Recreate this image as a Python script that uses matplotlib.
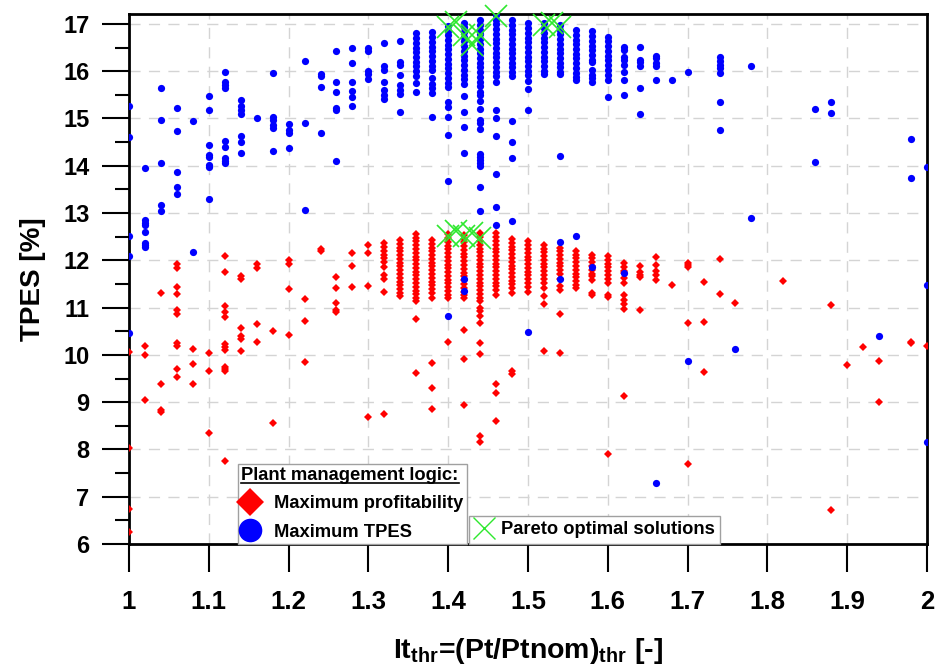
#!/usr/bin/env python3
import numpy as np
import matplotlib
matplotlib.use('Agg')
import matplotlib.pyplot as plt
from matplotlib.lines import Line2D
from matplotlib.ticker import MultipleLocator

plt.rcParams['font.family'] = ['Liberation Sans', 'DejaVu Sans']
plt.rcParams['font.weight'] = 'bold'
plt.rcParams['mathtext.fontset'] = 'custom'
plt.rcParams['mathtext.rm'] = 'Liberation Sans:bold'
plt.rcParams['mathtext.bf'] = 'Liberation Sans:bold'
plt.rcParams['mathtext.it'] = 'Liberation Sans:bold'

# It_thr values of each column of solutions
cols = [1.00, 1.02, 1.04, 1.06, 1.08, 1.10, 1.12, 1.14, 1.16, 1.18, 1.20, 1.22, 1.24,
        1.26, 1.28, 1.30, 1.32, 1.34, 1.36, 1.38, 1.40, 1.42, 1.44, 1.46, 1.48, 1.50,
        1.52, 1.54, 1.56, 1.58, 1.60, 1.62, 1.64, 1.66, 1.68, 1.70, 1.72, 1.74, 1.76,
        1.78, 1.82, 1.86, 1.88, 1.90, 1.92, 1.94, 1.98, 2.00]

# TPES [%] - plant managed for maximum TPES (blue)
tpes_max_tpes = [
    [15.26, 14.60, 12.52, 12.10, 10.46],                                   # 1.00
    [13.96, 12.86, 12.80, 12.74, 12.59, 12.36, 12.32, 12.28],              # 1.02
    [15.64, 14.96, 14.05, 13.18, 13.04],                                   # 1.04
    [15.23, 14.73, 13.87, 13.55, 13.41],                                   # 1.06
    [14.95, 12.18],                                                        # 1.08
    [15.47, 15.17, 14.43, 14.22, 14.18, 14.02, 13.98, 13.30],              # 1.10
    [15.99, 15.77, 15.70, 15.65, 14.53, 14.39, 14.17, 14.10, 14.05],       # 1.12
    [15.39, 15.26, 15.19, 15.10, 14.64, 14.51, 14.28],                     # 1.14
    [15.01],                                                               # 1.16
    [15.97, 15.04, 14.97, 14.86, 14.79, 14.32],                            # 1.18
    [14.89, 14.76, 14.69, 14.38],                                          # 1.20
    [16.22, 14.91, 13.07],                                                 # 1.22
    [15.94, 15.89, 15.66, 14.70],                                          # 1.24
    [16.43, 15.77, 15.56, 15.23, 15.18, 14.11],                            # 1.26
    [16.49, 16.17, 15.78, 15.58, 15.45, 15.27],                            # 1.28
    [16.49, 16.42, 16.01, 15.94, 15.83],                                   # 1.30
    [16.59, 16.10, 16.03, 15.78, 15.60, 15.50, 15.41],                     # 1.32
    [16.64, 16.20, 16.13, 15.92, 15.71, 15.60, 15.52, 15.13],              # 1.34
    [16.80, 16.70, 16.60, 16.50, 16.40, 16.30, 16.20, 16.10, 16.00, 15.90,
     15.76, 15.55],                                                        # 1.36
    [16.82, 16.72, 16.62, 16.52, 16.42, 16.32, 16.22, 16.12, 16.02, 15.85,
     15.73, 15.64, 15.53, 15.03],                                          # 1.38
    [16.96, 16.86, 16.76, 16.66, 16.56, 16.46, 16.36, 16.26, 16.16, 16.06,
     15.96, 15.86, 15.76, 15.66, 15.35, 15.25, 15.04, 14.66, 13.67, 10.82],  # 1.40
    [17.03, 16.93, 16.83, 16.73, 16.63, 16.53, 16.43, 16.33, 16.23, 16.13,
     16.03, 15.93, 15.83, 15.73, 15.48, 15.13, 14.83, 14.28, 11.60, 11.36],  # 1.42
    [17.08, 16.98, 16.88, 16.78, 16.68, 16.58, 16.48, 16.38, 16.28, 16.18,
     16.08, 15.98, 15.88, 15.78, 15.68, 15.57, 15.50, 15.37, 15.21, 14.97,
     14.90, 14.78, 14.24, 14.18, 14.12, 14.05, 13.99, 13.56, 13.05],       # 1.44
    [17.19, 17.09, 16.99, 16.89, 16.79, 16.69, 16.59, 16.49, 16.39, 16.29,
     16.19, 16.09, 15.99, 15.89, 15.78, 15.18, 15.01, 14.64, 13.82, 13.13,
     12.74],                                                               # 1.46
    [17.08, 16.98, 16.88, 16.78, 16.68, 16.58, 16.48, 16.38, 16.28, 16.18,
     16.08, 15.98, 15.89, 14.95, 14.50, 14.16, 12.84],                     # 1.48
    [17.01, 16.91, 16.81, 16.71, 16.61, 16.51, 16.41, 16.31, 16.21, 16.11,
     16.01, 15.92, 15.79, 15.63, 15.18, 10.48],                            # 1.50
    [17.01, 16.91, 16.81, 16.71, 16.61, 16.51, 16.41, 16.31, 16.21, 16.11,
     16.01, 15.94],                                                        # 1.52
    [16.98, 16.88, 16.78, 16.68, 16.58, 16.48, 16.38, 16.28, 16.18, 16.08,
     15.98, 15.94, 14.20, 12.38, 11.60],                                   # 1.54
    [16.87, 16.77, 16.67, 16.57, 16.47, 16.37, 16.27, 16.17, 16.07, 15.97,
     15.87, 15.82, 12.52],                                                 # 1.56
    [16.84, 16.74, 16.64, 16.54, 16.44, 16.34, 16.24, 16.20, 16.03, 15.92,
     15.85, 15.77, 11.85],                                                 # 1.58
    [16.73, 16.63, 16.53, 16.43, 16.33, 16.23, 16.13, 16.03, 15.93, 15.82,
     15.46],                                                               # 1.60
    [16.51, 16.44, 16.31, 16.24, 16.13, 15.99, 15.82, 15.50, 11.74],       # 1.62
    [16.52, 16.24, 16.19, 16.12, 15.64, 15.09],                            # 1.64
    [16.33, 16.28, 16.17, 16.12, 15.82, 7.28],                             # 1.66
    [15.82],                                                               # 1.68
    [15.99, 9.87],                                                         # 1.70
    [],                                                                    # 1.72
    [16.31, 16.21, 16.13, 16.06, 15.96, 15.35, 14.75],                     # 1.74
    [10.13],                                                               # 1.76
    [16.10, 12.90],                                                        # 1.78
    [],                                                                    # 1.82
    [15.20, 14.09],                                                        # 1.86
    [15.35, 15.11],                                                        # 1.88
    [],                                                                    # 1.90
    [],                                                                    # 1.92
    [10.40],                                                               # 1.94
    [14.56, 13.74],                                                        # 1.98
    [13.97, 11.47, 8.15],                                                  # 2.00
]

# TPES [%] - plant managed for maximum profitability (red)
tpes_max_profit = [
    [10.07, 8.04, 6.74, 6.25],                                             # 1.00
    [10.18, 10.00, 9.04],                                                  # 1.02
    [11.31, 9.39, 8.84, 8.79],                                             # 1.04
    [11.92, 11.84, 11.43, 11.28, 10.95, 10.87, 10.26, 10.19, 9.70, 9.54],  # 1.06
    [10.13, 9.80, 9.38],                                                   # 1.08
    [10.05, 9.66, 8.35],                                                   # 1.10
    [12.09, 11.75, 11.03, 10.91, 10.80, 10.22, 10.16, 10.10, 9.75, 9.70,
     9.65, 7.75],                                                          # 1.12
    [11.66, 11.61, 10.56, 10.39, 10.33, 10.08],                            # 1.14
    [11.93, 11.84, 10.66, 10.27],                                          # 1.16
    [10.51, 8.55],                                                         # 1.18
    [12.01, 11.92, 11.39, 10.41],                                          # 1.20
    [11.18, 10.71, 9.85],                                                  # 1.22
    [12.24, 12.19],                                                        # 1.24
    [11.64, 11.41, 11.09, 10.94, 10.91],                                   # 1.26
    [12.15, 11.87, 11.43],                                                 # 1.28
    [12.33, 12.16, 11.46, 8.68],                                           # 1.30
    [12.36, 12.28, 12.20, 12.12, 12.04, 11.96, 11.85, 11.68, 11.60, 11.32,
     8.74],                                                                # 1.32
    [12.43, 12.35, 12.27, 12.19, 12.11, 12.03, 11.95, 11.87, 11.79, 11.71,
     11.63, 11.55, 11.47, 11.39, 11.31, 11.24],                            # 1.34
    [12.56, 12.48, 12.40, 12.32, 12.24, 12.16, 12.08, 12.00, 11.92, 11.84,
     11.76, 11.68, 11.60, 11.52, 11.44, 11.36, 11.28, 11.20, 11.13, 10.76,
     9.61],                                                                # 1.36
    [12.43, 12.35, 12.27, 12.19, 12.11, 12.03, 11.95, 11.87, 11.79, 11.71,
     11.63, 11.55, 11.47, 11.39, 11.31, 11.20, 9.82, 9.29, 8.85],          # 1.38
    [12.55, 12.47, 12.39, 12.31, 12.23, 12.15, 12.07, 11.99, 11.91, 11.83,
     11.75, 11.67, 11.59, 11.51, 11.43, 11.35, 11.27, 11.20, 10.28],       # 1.40
    [12.54, 12.46, 12.38, 12.30, 12.22, 12.14, 12.06, 11.98, 11.90, 11.82,
     11.74, 11.66, 11.58, 11.50, 11.42, 11.34, 11.26, 11.20, 10.53, 9.91,
     8.94],                                                                # 1.42
    [12.57, 12.49, 12.41, 12.33, 12.25, 12.17, 12.09, 12.01, 11.93, 11.85,
     11.77, 11.69, 11.61, 11.53, 11.45, 11.37, 11.29, 11.21, 11.13, 10.99,
     10.93, 10.82, 10.68, 10.26, 10.02, 8.29, 8.16],                       # 1.44
    [12.57, 12.49, 12.41, 12.33, 12.25, 12.17, 12.09, 12.01, 11.93, 11.85,
     11.77, 11.69, 11.61, 11.53, 11.45, 11.37, 11.27, 9.39, 9.19, 8.61],   # 1.46
    [12.45, 12.37, 12.29, 12.21, 12.13, 12.05, 11.97, 11.89, 11.81, 11.73,
     11.65, 11.57, 11.49, 11.41, 11.30, 9.66, 9.59],                       # 1.48
    [12.40, 12.32, 12.24, 12.16, 12.08, 12.00, 11.92, 11.84, 11.76, 11.68,
     11.60, 11.52, 11.44, 11.34],                                          # 1.50
    [12.33, 12.25, 12.17, 12.09, 12.01, 11.93, 11.85, 11.77, 11.69, 11.61,
     11.53, 11.41, 11.24, 11.07, 10.09],                                   # 1.52
    [12.27, 12.19, 12.11, 12.03, 11.95, 11.87, 11.79, 11.71, 11.60, 11.45,
     11.38, 10.87, 10.05],                                                 # 1.54
    [12.20, 12.12, 12.04, 11.96, 11.88, 11.80, 11.72, 11.64, 11.56, 11.48,
     11.42],                                                               # 1.56
    [12.12, 12.04, 11.96, 11.88, 11.80, 11.72, 11.66, 11.59, 11.31, 11.27],  # 1.58
    [12.09, 12.01, 11.93, 11.85, 11.77, 11.69, 11.61, 11.52, 11.27, 11.22,
     7.90],                                                                # 1.60
    [11.94, 11.86, 11.78, 11.73, 11.62, 11.53, 11.27, 11.17, 11.07, 10.98,
     9.12],                                                                # 1.62
    [11.88, 11.75, 11.70, 11.64, 10.95],                                   # 1.64
    [12.08, 11.90, 11.78, 11.68, 11.59],                                   # 1.66
    [11.47],                                                               # 1.68
    [11.95, 11.90, 11.86, 10.68, 7.70],                                    # 1.70
    [11.55, 10.69, 9.64],                                                  # 1.72
    [12.03, 11.28],                                                        # 1.74
    [11.10],                                                               # 1.76
    [],                                                                    # 1.78
    [11.57],                                                               # 1.82
    [],                                                                    # 1.86
    [11.05, 6.72],                                                         # 1.88
    [9.79],                                                                # 1.90
    [10.17],                                                               # 1.92
    [9.88, 9.00],                                                          # 1.94
    [10.28, 10.25],                                                        # 1.98
    [10.18],                                                               # 2.00
]

# Pareto optimal solutions
pareto_x = [1.40, 1.41, 1.42, 1.43, 1.44, 1.43, 1.46, 1.52, 1.53, 1.54,
            1.40, 1.41, 1.42, 1.43, 1.44]
pareto_y = [16.93, 17.05, 16.77, 16.77, 16.77, 16.55, 17.16, 16.97, 17.02, 16.93,
            12.52, 12.62, 12.52, 12.58, 12.47]


def flatten(xs, ys):
    fx, fy = [], []
    for x, col in zip(xs, ys):
        fx += [x] * len(col)
        fy += col
    return np.array(fx), np.array(fy)


xr, yr = flatten(cols, tpes_max_profit)
xb, yb = flatten(cols, tpes_max_tpes)

fig = plt.figure(figsize=(9.36, 6.71), dpi=100)
ax = fig.add_axes([129/936, 1-544/671, 798/936, 530/671])

ax.plot(xr, yr, 'D', color='#ff0000', ms=3.9, mew=0, ls='none', zorder=3)
ax.plot(xb, yb, 'o', color='#0000ff', ms=5.2, mew=0, ls='none', zorder=4)
ax.plot(pareto_x, pareto_y, 'x', color='#2ee82e', ms=16, mew=1.2, ls='none',
        zorder=5, clip_on=False)

ax.set_xlim(1.0, 2.0)
ax.set_ylim(6.0, 17.21)
ax.set_xticks(np.round(np.arange(1.0, 2.01, 0.1), 1))
ax.set_xticklabels(['1', '1.1', '1.2', '1.3', '1.4', '1.5', '1.6', '1.7', '1.8',
                    '1.9', '2'], fontsize=18.5, fontweight='bold')
ax.yaxis.set_major_locator(MultipleLocator(1))
ax.yaxis.set_minor_locator(MultipleLocator(0.5))
ax.tick_params(axis='x', which='major', direction='out', length=20, width=1.5, pad=13)
ax.tick_params(axis='y', which='major', direction='out', length=19.5, width=1.5,
               pad=9, labelsize=17)
ax.tick_params(axis='y', which='minor', direction='out', length=10, width=1.5)
for s in ax.spines.values():
    s.set_linewidth(2.0)

ax.grid(True, which='major', color='#d4d4d4', lw=1.0, ls=(0, (8, 6)))
ax.set_axisbelow(True)

ax.set_ylabel('TPES [%]', fontsize=20, fontweight='bold', labelpad=12)
ax.set_xlabel(r'It$_{\mathrm{thr}}$=(Pt/Ptnom)$_{\mathrm{thr}}$ [-]',
              fontsize=20.5, fontweight='bold', labelpad=16)

# legends
h_red = Line2D([], [], marker='D', color='#ff0000', ms=14, mew=0, ls='none')
h_blue = Line2D([], [], marker='o', color='#0000ff', ms=17, mew=0, ls='none')
h_par = Line2D([], [], marker='x', color='#2ee82e', ms=16, mew=1.0, ls='none')

leg1 = ax.legend([h_red, h_blue], ['Maximum profitability', 'Maximum TPES'],
                 title='Plant management logic:', loc='lower left',
                 bbox_to_anchor=(109/798, 0), borderaxespad=0, fancybox=False,
                 edgecolor='#a0a0a0', framealpha=1, prop={'weight': 'bold', 'size': 13.2},
                 title_fontproperties={'weight': 'bold', 'size': 13.2},
                 alignment='left', handlelength=1.0, handletextpad=0.8,
                 labelspacing=0.62, borderpad=0.18)
leg1.get_frame().set_linewidth(1.0)
ax.add_artist(leg1)

leg2 = ax.legend([h_par], ['Pareto optimal solutions'], loc='lower left',
                 bbox_to_anchor=(340/798, 0), borderaxespad=0, fancybox=False,
                 edgecolor='#a0a0a0', framealpha=1, prop={'weight': 'bold', 'size': 13.2},
                 handlelength=1.0, handletextpad=0.45, borderpad=0.3)
leg2.get_frame().set_linewidth(1.0)

# underline the legend title
fig.canvas.draw()
tb = leg1.get_title().get_window_extent()
fig.add_artist(Line2D([tb.x0, tb.x1], [tb.y0 + 1, tb.y0 + 1], color='black', lw=1.2,
                      transform=None))

plt.savefig('out.png', dpi=100, facecolor='white')
